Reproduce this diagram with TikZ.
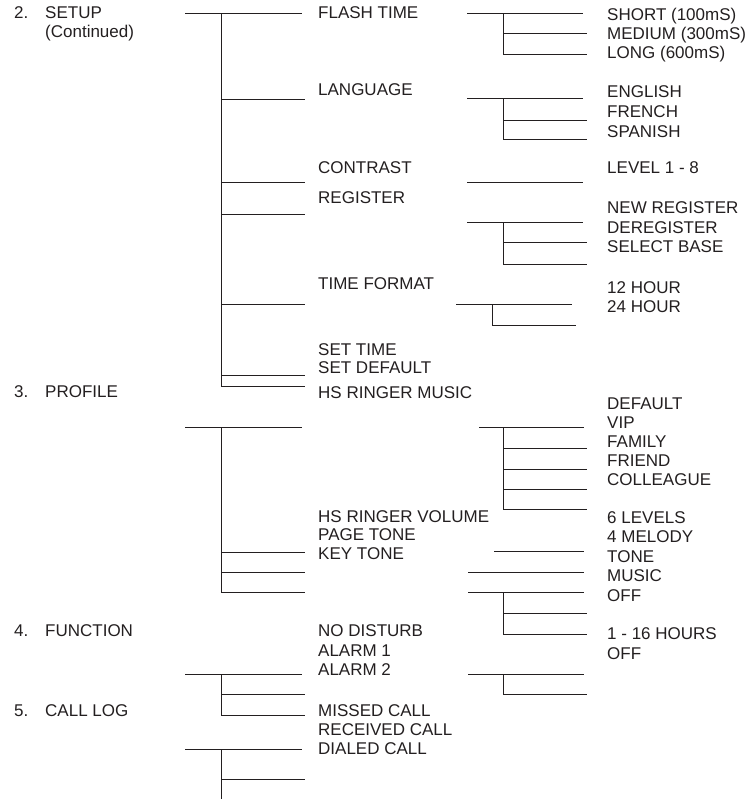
\documentclass[tikz,border=0pt]{standalone}
\usepackage{fontspec}
\setmainfont{Liberation Sans}
\usepackage{tikz}
\usetikzlibrary{positioning}
\definecolor{InkGray}{RGB}{35,31,32}

\begin{document}
\begin{tikzpicture}[x=1pt,y=-1pt,
	menu/.style={anchor=west,inner sep=0pt,text height=12pt,text depth=0pt,
		font=\fontsize{17}{19}\selectfont,text=InkGray},
	tree/.style={line width=1pt,InkGray}]
		\useasboundingbox (0,0) rectangle (749,799);
		
		% 一级菜单
		\node[menu] (numSetup) at (14,13) {2.};
		\node[menu] (setup) at (45,13) {SETUP};
		\node[menu] (setupCont) at (45,32) {(Continued)};
		\node[menu] (numProfile) at (14,391) {3.};
		\node[menu] (profile) at (45,391) {PROFILE};
		\node[menu] (numFunction) at (14,630) {4.};
		\node[menu] (function) at (45,630) {FUNCTION};
		\node[menu] (numCallLog) at (14,710) {5.};
		\node[menu] (callLog) at (45,710) {CALL LOG};
		
		% 二级菜单
		\node[menu] (flashTime) at (318,13) {FLASH TIME};
		\node[menu] (language) at (318,90) {LANGUAGE};
		\node[menu] (contrast) at (318,168) {CONTRAST};
		\node[menu] (register) at (318,198) {REGISTER};
		\node[menu] (timeFormat) at (318,283) {TIME FORMAT};
		\node[menu] (setTime) at (318,349) {SET TIME};
		\node[menu] (setDefault) at (318,367) {SET DEFAULT};
		\node[menu] (ringMusic) at (318,392) {HS RINGER MUSIC};
		\node[menu] (ringVolume) at (318,516) {HS RINGER VOLUME};
		\node[menu] (pageTone) at (318,534) {PAGE TONE};
		\node[menu] (keyTone) at (318,553) {KEY TONE};
		\node[menu] (noDisturb) at (318,630) {NO DISTURB};
		\node[menu] (alarmOne) at (318,650) {ALARM 1};
		\node[menu] (alarmTwo) at (318,669) {ALARM 2};
		\node[menu] (missed) at (318,710) {MISSED CALL};
		\node[menu] (received) at (318,729) {RECEIVED CALL};
		\node[menu] (dialed) at (318,748) {DIALED CALL};
		
		% 三级菜单
		\foreach \t [count=\i] in {SHORT (100mS),MEDIUM (300mS),LONG (600mS)}
			\node[menu] (flash\i) at (607,{15+19*(\i-1)}) {\t};
		\foreach \t [count=\i] in {ENGLISH,FRENCH,SPANISH}
			\node[menu] (lang\i) at (607,{92+20*(\i-1)}) {\t};
		\node[menu] (level) at (607,168) {LEVEL 1 - 8};
		\foreach \t [count=\i] in {NEW REGISTER,DEREGISTER,SELECT BASE}
			\node[menu] (reg\i) at (607,{208+19.5*(\i-1)}) {\t};
		\node[menu] (hour1) at (607,287) {12 HOUR};
		\node[menu] (hour2) at (607,306) {24 HOUR};
		\foreach \t [count=\i] in {DEFAULT,VIP,FAMILY,FRIEND,COLLEAGUE}
			\node[menu] (ring\i) at (607,{403+19.2*(\i-1)}) {\t};
		\foreach \t [count=\i] in {6 LEVELS,4 MELODY,TONE,MUSIC,OFF}
			\node[menu] (vol\i) at (607,{517+19.5*(\i-1)}) {\t};
		\node[menu] (disturb1) at (607,633) {1 - 16 HOURS};
		\node[menu] (disturb2) at (607,653) {OFF};
		
		% 主干：SETUP
		\coordinate (setupL) at (185,14);
		\coordinate (setupR) at (302,14);
		\coordinate (setupJ) at (221,14);
		\coordinate (setupEnd) at (221,386);
		\draw[tree] (setupL) -- (setupR);
		\draw[tree] (setupJ) -- (setupEnd);
		\foreach \y in {100,183,215,304,375,386}
			\draw[tree] (221,\y) -- (305,\y);
		
		% 主干：PROFILE
		\coordinate (profL) at (185,427);
		\coordinate (profR) at (302,427);
		\coordinate (profJ) at (221,427);
		\coordinate (profEnd) at (221,592);
		\draw[tree] (profL) -- (profR);
		\draw[tree] (profJ) -- (profEnd);
		\foreach \y in {552,572,592}
			\draw[tree] (221,\y) -- (305,\y);
		
		% 主干：FUNCTION
		\coordinate (funcL) at (185,674);
		\coordinate (funcR) at (302,674);
		\coordinate (funcJ) at (221,674);
		\coordinate (funcEnd) at (221,715);
		\draw[tree] (funcL) -- (funcR);
		\draw[tree] (funcJ) -- (funcEnd);
		\foreach \y in {694,715}
			\draw[tree] (221,\y) -- (305,\y);
		
		% 主干：CALL LOG
		\coordinate (logL) at (185,749);
		\coordinate (logR) at (302,749);
		\coordinate (logJ) at (221,749);
		\coordinate (logEnd) at (221,799);
		\draw[tree] (logL) -- (logR);
		\draw[tree] (logJ) -- (logEnd);
		\draw[tree] (221,779) -- (305,779);
		
		% 分支：FLASH TIME
		\draw[tree] (467,14) -- (583,14);
		\draw[tree] (503,14) -- (503,55);
		\foreach \y in {34,55}
			\draw[tree] (503,\y) -- (587,\y);
		
		% 分支：LANGUAGE
		\draw[tree] (467,99) -- (583,99);
		\draw[tree] (503,99) -- (503,140);
		\foreach \y in {121,140}
			\draw[tree] (503,\y) -- (587,\y);
		
		% 分支：CONTRAST
		\draw[tree] (467,183) -- (583,183);
		
		% 分支：REGISTER
		\draw[tree] (467,223) -- (583,223);
		\draw[tree] (503,223) -- (503,264);
		\foreach \y in {243,264}
			\draw[tree] (503,\y) -- (587,\y);
		
		% 分支：TIME FORMAT
		\draw[tree] (456,304) -- (572,304);
		\draw[tree] (492,304) -- (492,325);
		\draw[tree] (492,325) -- (576,325);
		
		% 分支：HS RINGER MUSIC
		\draw[tree] (479,427) -- (584,427);
		\draw[tree] (503,427) -- (503,509);
		\foreach \y in {448,469,489,509}
			\draw[tree] (503,\y) -- (587,\y);
		
		% 分支：铃声音量 / 按键音
		\draw[tree] (494,551) -- (584,551);
		\draw[tree] (468,572) -- (584,572);
		\draw[tree] (468,592) -- (584,592);
		\draw[tree] (503,592) -- (503,634);
		\foreach \y in {613,634}
			\draw[tree] (503,\y) -- (587,\y);
		
		% 分支：ALARM
		\draw[tree] (468,674) -- (584,674);
		\draw[tree] (503,674) -- (503,694);
		\draw[tree] (503,694) -- (587,694);
	\end{tikzpicture}
\end{document}
